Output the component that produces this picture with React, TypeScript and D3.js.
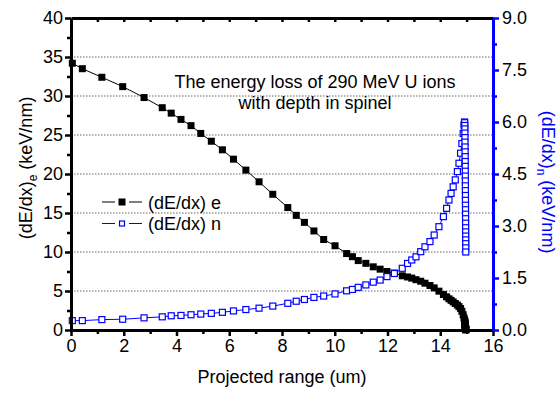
import React, { useEffect, useRef } from 'react';
import * as d3 from 'd3';

// projected range (um), shared by both series
const depth = [
  0.05, 0.43, 1.17, 1.96, 2.77, 3.46, 3.8, 4.17, 4.55, 4.92,
  5.32, 5.74, 6.16, 6.63, 7.13, 7.65, 8.22, 8.54, 8.85, 9.21,
  9.58, 10.01, 10.45, 10.67, 10.89, 11.18, 11.46, 11.72, 11.98, 12.26,
  12.56, 12.76, 12.92, 13.08, 13.26, 13.42, 13.61, 13.77, 13.95, 14.12,
  14.24, 14.33, 14.41, 14.49, 14.57, 14.65, 14.71, 14.77, 14.82, 14.87, 14.9,
  14.92, 14.925, 14.93, 14.932, 14.934, 14.936, 14.938, 14.94, 14.942, 14.944,
  14.946, 14.948, 14.95, 14.951, 14.952, 14.953, 14.954, 14.955, 14.956, 14.957,
  14.958, 14.959, 14.96, 14.961, 14.962, 14.963, 14.964, 14.965, 14.966, 14.967, 14.968
];

// electronic stopping (keV/nm), left axis
const dedxE = [
  34.2, 33.5, 32.4, 31.2, 29.8, 28.5, 27.8, 27.0, 26.2, 25.2,
  24.2, 23.1, 21.9, 20.5, 19.0, 17.4, 15.7, 14.7, 13.8, 12.7,
  11.6, 10.8, 9.8, 9.4, 8.9, 8.55, 8.1, 7.8, 7.5, 7.3,
  6.95, 6.8, 6.65, 6.45, 6.25, 6.0, 5.7, 5.4, 4.98, 4.55,
  4.25, 4.0, 3.8, 3.6, 3.4, 3.2, 3.0, 2.75, 2.4, 1.95, 1.55,
  1.3, 1.2, 1.1, 1.0, 0.92, 0.85, 0.78, 0.72, 0.66, 0.61,
  0.56, 0.52, 0.48, 0.44, 0.4, 0.37, 0.34, 0.31, 0.28, 0.25,
  0.22, 0.2, 0.18, 0.16, 0.14, 0.12, 0.1, 0.08, 0.06, 0.04, 0.02
];

// nuclear stopping (keV/nm), right axis
const dedxN = [
  0.27, 0.27, 0.3, 0.31, 0.35, 0.38, 0.41, 0.42, 0.44, 0.46,
  0.48, 0.51, 0.55, 0.59, 0.63, 0.69, 0.77, 0.83, 0.88, 0.94,
  0.98, 1.04, 1.13, 1.17, 1.23, 1.3, 1.38, 1.44, 1.54, 1.63,
  1.78, 1.92, 2.02, 2.11, 2.26, 2.4, 2.55, 2.74, 2.98, 3.27,
  3.51, 3.75, 3.94, 4.13, 4.33, 4.57, 4.81, 5.1, 5.38, 5.67, 5.91,
  6.0, 5.98, 5.9, 5.8, 5.68, 5.55, 5.42, 5.28, 5.14, 5.0,
  4.86, 4.72, 4.58, 4.44, 4.3, 4.16, 4.02, 3.88, 3.74, 3.6,
  3.47, 3.34, 3.21, 3.08, 2.95, 2.83, 2.71, 2.6, 2.49, 2.37, 2.25
];

const xTicks = [0, 2, 4, 6, 8, 10, 12, 14, 16];
const yLeftTicks = [0, 5, 10, 15, 20, 25, 30, 35, 40];
const yRightTicks = [0, 1.5, 3, 4.5, 6, 7.5, 9];
const gridValues = [5, 10, 15, 20, 25, 30, 35];

const titleLines = ['The energy loss of 290 MeV U ions', 'with depth in spinel'];
const legendLabels = ['(dE/dx) e', '(dE/dx) n'];

const FONT = 'Arial, "Liberation Sans", sans-serif';

export default function App() {
  const ref = useRef<SVGSVGElement>(null);

  useEffect(() => {
    const svg = d3.select(ref.current);
    svg.selectAll('*').remove();

    const left = 71, right = 493, top = 18, bottom = 330;

    const x = d3.scaleLinear().domain([0, 16]).range([left, right]);
    const yL = d3.scaleLinear().domain([0, 40]).range([bottom, top]);
    const yR = d3.scaleLinear().domain([0, 9]).range([bottom, top]);

    const rows = depth.map((d, i) => ({ x: d, e: dedxE[i], n: dedxN[i] }));

    // dotted grid lines
    svg.append('g')
      .selectAll('line')
      .data(gridValues)
      .enter()
      .append('line')
      .attr('x1', left)
      .attr('x2', right)
      .attr('y1', d => yL(d))
      .attr('y2', d => yL(d))
      .attr('stroke', '#666')
      .attr('stroke-width', 1)
      .attr('stroke-dasharray', '1.5,1.5');

    // electronic
    const lineE = d3.line<any>().x(d => x(d.x)).y(d => yL(d.e));
    svg.append('path')
      .attr('d', lineE(rows))
      .attr('fill', 'none')
      .attr('stroke', '#000')
      .attr('stroke-width', 1);
    svg.append('g')
      .selectAll('rect')
      .data(rows)
      .enter()
      .append('rect')
      .attr('x', d => x(d.x) - 3.5)
      .attr('y', d => yL(d.e) - 3.5)
      .attr('width', 7)
      .attr('height', 7)
      .attr('fill', '#000');

    // nuclear
    const lineN = d3.line<any>().x(d => x(d.x)).y(d => yR(d.n));
    svg.append('path')
      .attr('d', lineN(rows))
      .attr('fill', 'none')
      .attr('stroke', '#0000ff')
      .attr('stroke-width', 1);
    svg.append('g')
      .selectAll('rect')
      .data(rows)
      .enter()
      .append('rect')
      .attr('x', d => x(d.x) - 3)
      .attr('y', d => yR(d.n) - 3)
      .attr('width', 6)
      .attr('height', 6)
      .attr('fill', '#fff')
      .attr('stroke', '#0000ff')
      .attr('stroke-width', 1.2);

    const styleAxis = (g: any, color: string) => {
      g.attr('font-family', FONT).attr('font-size', 18);
      g.select('.domain').attr('stroke', color).attr('stroke-width', 3);
      g.selectAll('line').attr('stroke', color).attr('stroke-width', 2.5);
      g.selectAll('text').attr('fill', '#000');
    };

    // bottom axis
    const gb = svg.append('g').attr('transform', 'translate(0,' + bottom + ')')
      .call(d3.axisBottom(x).tickValues(xTicks).tickSize(6).tickSizeOuter(0).tickPadding(3));
    styleAxis(gb, '#000');
    svg.append('g').attr('transform', 'translate(0,' + bottom + ')')
      .call(d3.axisBottom(x).tickValues(d3.range(1, 16, 2)).tickSize(4).tickFormat(() => ''))
      .call(g => g.select('.domain').remove())
      .selectAll('line').attr('stroke', '#000').attr('stroke-width', 2.5);

    // top axis, ticks inward
    const gt = svg.append('g').attr('transform', 'translate(0,' + top + ')')
      .call(d3.axisBottom(x).tickValues(d3.range(1, 16)).tickSize(4).tickSizeOuter(0).tickFormat(() => ''));
    styleAxis(gt, '#000');

    // left axis
    const gl = svg.append('g').attr('transform', 'translate(' + left + ',0)')
      .call(d3.axisLeft(yL).tickValues(yLeftTicks).tickSize(6).tickSizeOuter(0).tickPadding(2));
    styleAxis(gl, '#000');
    svg.append('g').attr('transform', 'translate(' + left + ',0)')
      .call(d3.axisLeft(yL).tickValues(d3.range(2.5, 40, 5)).tickSize(4).tickFormat(() => ''))
      .call(g => g.select('.domain').remove())
      .selectAll('line').attr('stroke', '#000').attr('stroke-width', 2.5);

    // right axis
    const gr = svg.append('g').attr('transform', 'translate(' + right + ',0)')
      .call(d3.axisRight(yR).tickValues(yRightTicks).tickSize(6).tickSizeOuter(0).tickPadding(3)
        .tickFormat(d3.format('.1f')));
    styleAxis(gr, '#0000ff');
    svg.append('g').attr('transform', 'translate(' + right + ',0)')
      .call(d3.axisRight(yR).tickValues(d3.range(0.75, 9, 1.5)).tickSize(4).tickFormat(() => ''))
      .call(g => g.select('.domain').remove())
      .selectAll('line').attr('stroke', '#0000ff').attr('stroke-width', 2.5);

    // title
    svg.append('g')
      .selectAll('text')
      .data(titleLines)
      .enter()
      .append('text')
      .attr('x', 315)
      .attr('y', (d, i) => 88 + i * 21)
      .attr('text-anchor', 'middle')
      .attr('font-family', FONT)
      .attr('font-size', 18)
      .text(d => d);

    // legend: line - marker - line, with small gaps
    const legendColors = ['#000', '#0000ff'];
    const leg = svg.append('g')
      .selectAll('g')
      .data(legendLabels)
      .enter()
      .append('g')
      .attr('transform', (d, i) => 'translate(102,' + (202 + i * 21.5) + ')');
    leg.append('line')
      .attr('x1', 0).attr('x2', 13).attr('y1', 0).attr('y2', 0)
      .attr('stroke', (d, i) => legendColors[i]).attr('stroke-width', 1);
    leg.append('line')
      .attr('x1', 27).attr('x2', 40).attr('y1', 0).attr('y2', 0)
      .attr('stroke', (d, i) => legendColors[i]).attr('stroke-width', 1);
    leg.append('rect')
      .attr('x', (d, i) => i === 0 ? 16.5 : 17.5)
      .attr('y', (d, i) => i === 0 ? -3.5 : -2.5)
      .attr('width', (d, i) => i === 0 ? 7 : 5)
      .attr('height', (d, i) => i === 0 ? 7 : 5)
      .attr('fill', (d, i) => i === 0 ? '#000' : '#fff')
      .attr('stroke', (d, i) => i === 0 ? 'none' : '#0000ff')
      .attr('stroke-width', 1.2);
    leg.append('text')
      .attr('x', 46)
      .attr('y', 6.5)
      .attr('font-family', FONT)
      .attr('font-size', 18)
      .text(d => d);

    // axis titles
    svg.append('text')
      .attr('x', 282)
      .attr('y', 383)
      .attr('text-anchor', 'middle')
      .attr('font-family', FONT)
      .attr('font-size', 18)
      .text('Projected range (um)');

    const yl = svg.append('text')
      .attr('transform', 'translate(32,168) rotate(-90)')
      .attr('text-anchor', 'middle')
      .attr('font-family', FONT)
      .attr('font-size', 18);
    yl.append('tspan').text('(dE/dx)');
    yl.append('tspan').attr('font-size', 12).attr('dy', 5).text('e');
    yl.append('tspan').attr('dy', -5).text(' (keV/nm)');

    const yr = svg.append('text')
      .attr('transform', 'translate(542,182) rotate(90)')
      .attr('text-anchor', 'middle')
      .attr('font-family', FONT)
      .attr('font-size', 18)
      .attr('fill', '#0000ff');
    yr.append('tspan').text('(dE/dx)');
    yr.append('tspan').attr('font-size', 12).attr('dy', 5).text('n');
    yr.append('tspan').attr('dy', -5).text(' (keV/nm)');
  }, []);

  return (
    <svg
      ref={ref}
      width={558}
      height={393}
      style={{ position: 'absolute', left: 0, top: 0, background: '#fff' }}
    />
  );
}
